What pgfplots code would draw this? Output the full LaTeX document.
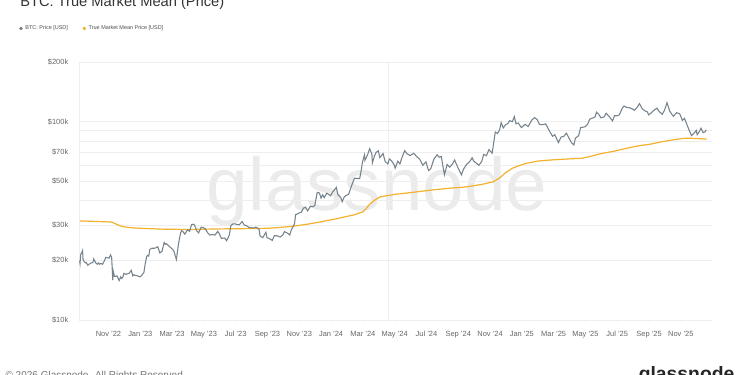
\documentclass[border=0pt]{standalone}
\usepackage{pgfplots}
\pgfplotsset{compat=1.18}
\usepackage{fontspec}
\setmainfont{Liberation Sans}
\definecolor{pricecol}{HTML}{75838D}
\definecolor{tmmcol}{HTML}{F3B12C}
\definecolor{gridcol}{HTML}{EEEEEE}
\definecolor{tickcol}{HTML}{666666}
\definecolor{wmcol}{HTML}{EBEBEB}
\begin{document}
\begin{tikzpicture}
\useasboundingbox (0,0) rectangle (562.5pt,-281.25pt);
% watermark
\node[anchor=base west, inner sep=0pt, text=wmcol, font=\fontsize{56}{56}\selectfont] at (155pt,-157.5pt) {glassnode};
% title
\node[anchor=base west, inner sep=0pt, text=black!80, font=\fontsize{11}{13}\selectfont] at (15pt,-4.8pt) {BTC: True Market Mean (Price)};
% footer
\node[anchor=base west, inner sep=0pt, text=black!55, font=\fontsize{7.5}{9}\selectfont] at (4pt,-283.5pt) {\textcopyright\ 2026 Glassnode. All Rights Reserved.};
\node[anchor=base east, inner sep=0pt, text=black!85, font=\fontsize{14.5}{16}\selectfont\bfseries] at (551pt,-285.5pt) {glassnode};
\begin{axis}[
  at={(59.25pt,-240pt)}, anchor=south west,
  scale only axis, width=474.75pt, height=193.5pt,
  ymode=log, xmin=8.145, xmax=47.96, ymin=10000, ymax=200000,
  axis x line*=bottom, axis y line*=left,
  axis line style={draw=gridcol, line width=0.6pt},
  xtick={10,12,...,46},
  xticklabels={Nov '22,Jan '23,Mar '23,May '23,Jul '23,Sep '23,Nov '23,Jan '24,Mar '24,May '24,Jul '24,Sep '24,Nov '24,Jan '25,Mar '25,May '25,Jul '25,Sep '25,Nov '25},
  ytick={10000,20000,30000,50000,70000,100000,200000},
  yticklabels={\$10k,\$20k,\$30k,\$50k,\$70k,\$100k,\$200k},
  minor ytick={40000,60000,80000,90000},
  ymajorgrids, yminorgrids,
  major grid style={draw=gridcol, line width=0.5pt},
  minor grid style={draw=gridcol, line width=0.5pt},
  major tick length=1.5pt, minor tick length=0pt,
  xtick style={draw=gridcol}, ytick style={draw=none},
  tick align=outside,
  extra x ticks={27.63}, extra x tick labels={},
  extra x tick style={grid=major, major tick length=0pt},
  ticklabel style={font=\fontsize{5.6}{6.5}\selectfont, text=tickcol},
  xticklabel style={yshift=-3.5pt},
  yticklabel style={xshift=-3pt},
  legend style={at={(-0.0948,1.13)}, anchor=west, draw=none, fill=none,
    font=\fontsize{4.1}{5}\selectfont, text=black!70, legend columns=2,
    inner sep=0pt, /tikz/every even column/.append style={column sep=9pt}},
  legend cell align=left,
]
\addlegendimage{legend image code/.code={\fill[pricecol] (0pt,0pt) circle (1.1pt);}}
\addlegendentry{BTC: Price [USD]}
\addlegendimage{legend image code/.code={\fill[tmmcol] (0pt,0pt) circle (1.1pt);}}
\addlegendentry{True Market Mean Price [USD]}
\addplot[tmmcol, line width=0.9pt, forget plot] coordinates {
(8.2,31600) (9.2,31400) (10.2,31200) (10.5,30400) (10.85,29600) (11.4,29200) (12.0,29000) (13.5,28700) (15.1,28600)
(17.0,28800) (18.9,28900) (20.0,29000) (20.8,29300) (21.6,29700) (22.5,30400) (23.3,31200) (24.5,32600)
(25.5,34000) (26.0,35100) (26.25,36800) (26.45,38500) (26.8,40500) (27.1,41800) (28.0,43000) (29.0,43900)
(30.4,45300) (31.5,46200) (32.5,46900) (33.5,48300) (34.2,49800) (34.6,52000) (35.0,55500) (35.4,58200)
(35.9,60300) (36.3,61700) (37.0,63300) (37.8,64100) (38.8,64800) (39.8,65400) (40.3,66800) (40.9,68800) (41.8,71000)
(42.6,73500) (43.3,75500) (44.1,77100) (44.8,79200) (45.5,81000) (46.0,82100) (46.4,82600) (47.0,82200) (47.62,81700)
};
\addplot[pricecol, line width=0.8pt, forget plot] coordinates {
(8.18,19900) (8.21,19300) (8.25,21400) (8.31,21800) (8.37,22400) (8.40,20200) (8.47,19700) (8.57,19400) (8.60,19500)
(8.70,18900) (8.77,19100) (8.83,19200) (8.90,19400) (8.97,19400)
(9.03,19600) (9.07,20300) (9.13,19900) (9.20,19400) (9.30,19100) (9.37,19400) (9.43,19100) (9.53,19300) (9.63,19100)
(9.70,19600) (9.77,20100) (9.83,20700) (9.93,20600)
(10.03,20500) (10.13,21300) (10.20,20600) (10.23,18500) (10.27,15900) (10.30,17600) (10.37,16600) (10.47,16600) (10.53,16700)
(10.60,16300) (10.67,15800) (10.77,16500) (10.83,16200) (10.90,16400) (10.97,17200)
(11.03,17100) (11.10,17000) (11.20,17100) (11.30,17200) (11.43,17800) (11.53,16700) (11.60,16900) (11.67,16800) (11.83,16700) (11.97,16500)
(12.07,16700) (12.23,17400) (12.30,19000) (12.40,20900) (12.47,21200) (12.53,21000) (12.60,22700) (12.73,23000) (12.87,23000) (12.97,23100)
(13.10,23400) (13.23,21800) (13.37,22200) (13.50,24600) (13.57,24100) (13.63,24300) (13.80,23600) (13.93,23100)
(14.10,22400) (14.27,20200) (14.40,24100) (14.53,27400) (14.60,28200) (14.67,28000) (14.80,27100) (14.97,28500)
(15.10,28000) (15.23,30300) (15.37,30400) (15.47,29400) (15.53,28300) (15.67,27500) (15.83,29400) (15.97,29200)
(16.10,28800) (16.23,27600) (16.37,26800) (16.53,27000) (16.70,26800) (16.87,28000) (16.97,27200)
(17.10,25800) (17.30,25900) (17.43,25100) (17.60,26800) (17.70,30000) (17.83,30500) (17.97,30500)
(18.10,30300) (18.23,30200) (18.40,31400) (18.53,30200) (18.70,29800) (18.83,29300) (18.97,29200)
(19.10,29100) (19.27,29400) (19.47,28700) (19.53,26600) (19.70,26000) (19.90,27700) (19.97,26000)
(20.10,25800) (20.30,25200) (20.43,26600) (20.60,26600) (20.80,26200) (20.97,26900)
(21.07,27900) (21.27,27400) (21.40,26800) (21.50,28500) (21.70,30500) (21.77,34000) (21.87,34200) (21.97,34600)
(22.13,35000) (22.27,36700) (22.40,37000) (22.53,35500) (22.70,37500) (22.83,37200) (22.97,37700)
(23.13,44000) (23.27,43700) (23.37,41200) (23.47,42800) (23.57,41400) (23.73,43600) (23.97,42300)
(24.10,44200) (24.33,46600) (24.43,42800) (24.60,41600) (24.70,39500) (24.83,41800) (24.97,42600)
(25.10,43000) (25.27,47100) (25.47,51900) (25.63,51700) (25.80,51700) (25.90,57000) (25.97,62400)
(26.10,68000) (26.13,63800) (26.30,68300) (26.40,72100) (26.43,73100) (26.57,68400) (26.60,62000) (26.73,67200) (26.83,70000) (26.97,71300)
(27.07,65900) (27.27,69100) (27.40,63000) (27.57,61200) (27.67,64900) (27.80,63500) (27.97,60600)
(28.03,58300) (28.20,63200) (28.33,61200) (28.47,66300) (28.63,71400) (28.77,69000) (28.97,67500)
(29.20,69300) (29.40,66500) (29.57,64800) (29.77,60300) (29.97,62700)
(30.13,56700) (30.27,57900) (30.47,64800) (30.67,68100) (30.80,66200) (30.93,66800)
(31.13,54000) (31.30,60900) (31.47,59000) (31.63,61100) (31.77,64100) (31.97,58900)
(32.20,53900) (32.33,57600) (32.53,61000) (32.73,63000) (32.87,65800) (32.97,63300)
(33.10,62100) (33.30,60300) (33.47,62900) (33.60,68400) (33.77,67400) (33.93,72300)
(34.13,69400) (34.20,75600) (34.33,88700) (34.47,87300) (34.60,91000) (34.70,98900) (34.83,93000) (34.97,96400)
(35.13,98000) (35.23,101200) (35.40,100000) (35.53,106100) (35.63,97500) (35.77,98500) (35.97,93400)
(36.20,96900) (36.40,94500) (36.63,102000) (36.80,104800) (36.97,102400)
(37.10,97000) (37.30,96500) (37.50,97500) (37.77,88700) (37.93,84400)
(38.07,86000) (38.30,78500) (38.47,83700) (38.63,84200) (38.80,87500) (38.97,82500)
(39.13,78200) (39.27,76300) (39.37,82600) (39.57,85000) (39.70,93400) (39.97,94200)
(40.13,96800) (40.27,103000) (40.43,104200) (40.60,105600) (40.70,111700) (40.83,109000) (40.97,104600)
(41.17,105600) (41.30,110300) (41.50,106000) (41.70,100900) (41.83,107100) (41.97,107100)
(42.13,108200) (42.33,117600) (42.43,119800) (42.60,118000) (42.77,117600) (42.97,115700)
(43.07,114200) (43.23,117500) (43.40,123300) (43.57,116200) (43.73,113500) (43.90,112000) (43.97,108200)
(44.13,110600) (44.30,114000) (44.50,117100) (44.63,112700) (44.83,109000) (44.97,114000)
(45.13,124700) (45.30,113000) (45.47,108000) (45.53,106400) (45.73,111000) (45.93,109600)
(46.10,101500) (46.23,104000) (46.43,94500) (46.67,85000) (46.83,87500) (46.97,90400)
(47.03,86000) (47.17,89400) (47.27,92700) (47.40,88000) (47.53,89000) (47.60,91000)
};
\end{axis}
\end{tikzpicture}
\end{document}
